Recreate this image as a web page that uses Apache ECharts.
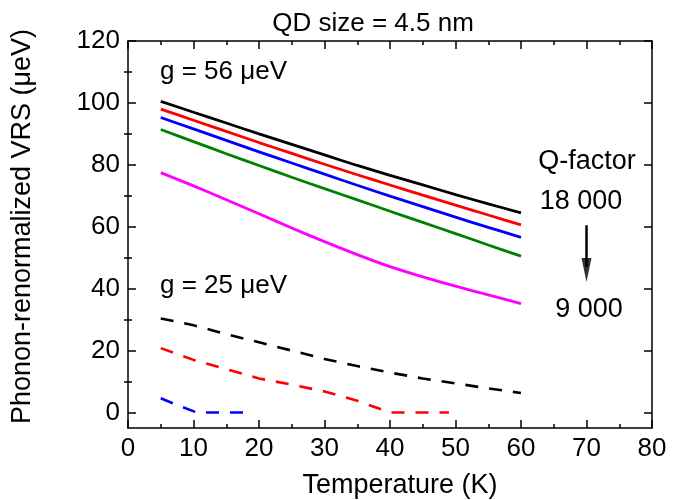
<!DOCTYPE html>
<html>
<head>
<meta charset="utf-8">
<script src="https://cdn.jsdelivr.net/npm/echarts@6/dist/echarts.min.js"></script>
<style>html,body{margin:0;padding:0;background:#fff}#c{width:682px;height:500px}</style>
</head>
<body>
<div id="c"></div>
<script>
// ---- data ----
const tempsSolid = [5, 10, 15, 20, 25, 30, 35, 40, 45, 50, 55, 60];
const q18000 = [100.5, 97.0, 93.5, 90.0, 86.6, 83.2, 79.8, 76.6, 73.5, 70.4, 67.4, 64.5];
const q16000 = [98.0, 94.4, 90.8, 87.2, 83.7, 80.2, 76.8, 73.5, 70.2, 67.0, 63.8, 60.6];
const q14000 = [95.3, 91.6, 87.9, 84.2, 80.6, 77.0, 73.4, 69.9, 66.5, 63.1, 59.8, 56.6];
const q12000 = [91.4, 87.5, 83.6, 79.8, 76.0, 72.3, 68.7, 65.0, 61.4, 57.8, 54.1, 50.5];
const q9000  = [77.5, 73.2, 68.7, 64.2, 59.6, 55.2, 51.0, 47.1, 43.8, 40.8, 38.0, 35.2];

const tempsDashBlack = [5, 10, 15, 20, 25, 30, 35, 40, 45, 50, 55, 60];
const g25Black = [30.4, 28.2, 25.3, 22.7, 20.0, 17.3, 15.0, 12.9, 11.0, 9.4, 7.8, 6.3];
const tempsDashRed = [5, 10, 15, 20, 25, 30, 35, 40, 45, 49];
const g25Red = [20.8, 17.0, 14.0, 11.0, 9.0, 6.8, 3.8, 0, 0, 0];
const tempsDashBlue = [5, 8, 10.5, 19];
const g25Blue = [4.6, 2.0, 0, 0];

const xTicks = [0, 10, 20, 30, 40, 50, 60, 70, 80];
const yTicks = [0, 20, 40, 60, 80, 100, 120];
const yMinorTicks = [10, 30, 50, 70, 90, 110];
const arrowX = 70, arrowFrom = 60.5, arrowTo = 47, arrowHead = 46;

const FONT = 'Liberation Sans, Arial, sans-serif';
const pair = (xs, ys) => xs.map((x, i) => [x, ys[i]]);

const chart = echarts.init(document.getElementById('c'));

function solid(name, xs, ys, color) {
  return { name, type: 'line', data: pair(xs, ys), showSymbol: false, symbol: 'none',
    smooth: 0.3, lineStyle: { color, width: 2.8 }, silent: true, animation: false };
}
function dashed(name, xs, ys, color) {
  return { name, type: 'line', data: pair(xs, ys), showSymbol: false, symbol: 'none',
    lineStyle: { color, width: 2.6, type: [13, 11] }, silent: true, animation: false };
}

const axisLineStyle = { show: true, onZero: false, lineStyle: { color: '#000', width: 1.5 } };

const yBase = { type: 'value', min: -5, max: 120, splitLine: { show: false }, axisLine: axisLineStyle };

chart.setOption({
  animation: false,
  backgroundColor: '#fff',
  title: { text: 'QD size = 4.5 nm', left: 368, top: 6, textAlign: 'center',
    textStyle: { fontFamily: FONT, fontSize: 26, fontWeight: 'normal', color: '#000' } },
  grid: { left: 128, right: 30, top: 41, bottom: 72, containLabel: false, outerBoundsMode: 'none' },
  xAxis: [
    { type: 'value', min: 0, max: 80, interval: 10, position: 'bottom',
      name: 'Temperature (K)', nameLocation: 'middle', nameGap: 44,
      nameTextStyle: { fontFamily: FONT, fontSize: 27, color: '#000', padding: [0, 0, 0, 20] },
      axisLine: axisLineStyle,
      axisTick: { show: true, inside: true, length: 8, lineStyle: { color: '#000', width: 1.5 } },
      minorTick: { show: true, splitNumber: 2, length: 4, lineStyle: { color: '#000', width: 1.5 } },
      axisLabel: { fontFamily: FONT, fontSize: 26, color: '#000', margin: 8 },
      splitLine: { show: false } },
    { type: 'value', min: 0, max: 80, interval: 10, position: 'top',
      axisLine: axisLineStyle,
      axisTick: { show: true, inside: true, length: 8, lineStyle: { color: '#000', width: 1.5 } },
      minorTick: { show: true, splitNumber: 2, length: 4, lineStyle: { color: '#000', width: 1.5 } },
      axisLabel: { show: false }, splitLine: { show: false } }
  ],
  yAxis: [
    Object.assign({}, yBase, { position: 'left',
      name: 'Phonon-renormalized VRS (μeV)', nameLocation: 'middle', nameGap: 92, nameRotate: 90,
      nameTextStyle: { fontFamily: FONT, fontSize: 27, color: '#000', padding: [0, 0, 0, 16] },
      axisTick: { show: true, inside: true, length: 8, customValues: yTicks, lineStyle: { color: '#000', width: 1.5 } },
      axisLabel: { fontFamily: FONT, fontSize: 26, color: '#000', margin: 8, customValues: yTicks } }),
    Object.assign({}, yBase, { position: 'right',
      axisTick: { show: true, inside: true, length: 8, customValues: yTicks, lineStyle: { color: '#000', width: 1.5 } },
      axisLabel: { show: false } }),
    Object.assign({}, yBase, { position: 'left', axisLine: { show: false },
      axisTick: { show: true, inside: true, length: 4, customValues: yMinorTicks, lineStyle: { color: '#000', width: 1.5 } },
      axisLabel: { show: false } }),
    Object.assign({}, yBase, { position: 'right', axisLine: { show: false },
      axisTick: { show: true, inside: true, length: 4, customValues: yMinorTicks, lineStyle: { color: '#000', width: 1.5 } },
      axisLabel: { show: false } })
  ],
  series: [
    solid('Q 18000', tempsSolid, q18000, '#000000'),
    solid('Q 16000', tempsSolid, q16000, '#ff0000'),
    solid('Q 14000', tempsSolid, q14000, '#0000ff'),
    solid('Q 12000', tempsSolid, q12000, '#008000'),
    solid('Q 9000', tempsSolid, q9000, '#ff00ff'),
    dashed('g25 black', tempsDashBlack, g25Black, '#000000'),
    dashed('g25 red', tempsDashRed, g25Red, '#ff0000'),
    dashed('g25 blue', tempsDashBlue, g25Blue, '#0000ff'),
    { type: 'line', data: [[arrowX, arrowFrom], [arrowX, arrowTo]], symbol: 'none', showSymbol: false,
      lineStyle: { color: '#000', width: 2.5 }, silent: true },
    { type: 'scatter', data: [[arrowX, arrowHead]], symbol: 'triangle', symbolSize: [10, 24], symbolRotate: 180,
      itemStyle: { color: '#000' }, silent: true }
  ],
  graphic: [
    { type: 'text', left: 160, top: 59, style: { text: 'g = 56 μeV', font: '26px ' + FONT, fill: '#000' } },
    { type: 'text', left: 160, top: 273, style: { text: 'g = 25 μeV', font: '26px ' + FONT, fill: '#000' } },
    { type: 'text', x: 587, y: 162, style: { text: 'Q-factor', font: '27px ' + FONT, fill: '#000', align: 'center', verticalAlign: 'middle' } },
    { type: 'text', x: 581, y: 202, style: { text: '18 000', font: '27px ' + FONT, fill: '#000', align: 'center', verticalAlign: 'middle' } },
    { type: 'text', x: 589, y: 310, style: { text: '9 000', font: '27px ' + FONT, fill: '#000', align: 'center', verticalAlign: 'middle' } }
  ]
});
</script>
</body>
</html>
